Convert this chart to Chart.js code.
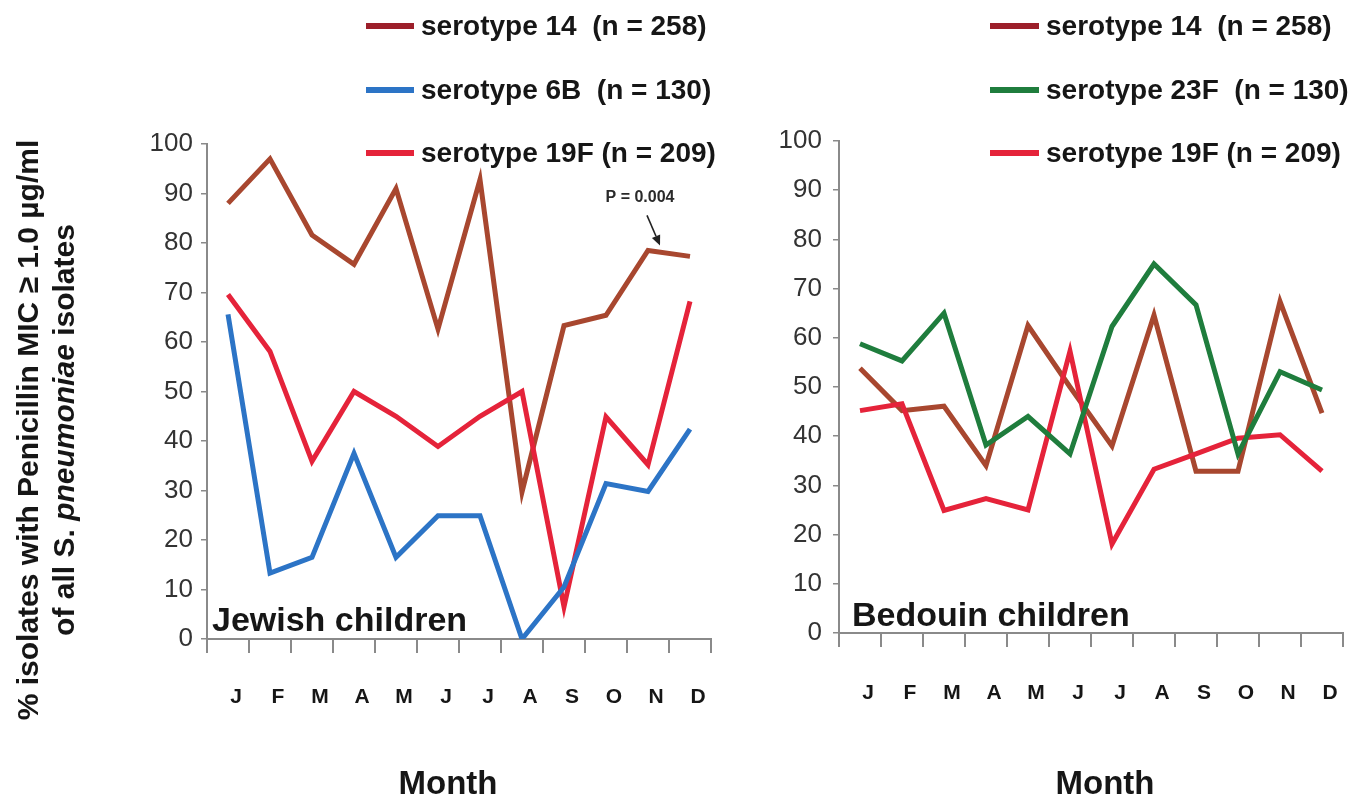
<!DOCTYPE html>
<html>
<head>
<meta charset="utf-8">
<script src="https://cdn.jsdelivr.net/npm/chart.js@4/dist/chart.umd.min.js"></script>
<style>
  html, body { margin: 0; padding: 0; background: #fff; }
  #wrap { position: relative; width: 1370px; height: 802px; overflow: hidden; background: #fff; }
  #jewish { position: absolute; left: 0; top: 0; }
  #bedouin { position: absolute; left: 760px; top: 0; }
</style>
</head>
<body>
<div id="wrap">
  <canvas id="jewish" width="760" height="802"></canvas>
  <canvas id="bedouin" width="610" height="802"></canvas>
</div>
<script>
// Monthly share of isolates with penicillin MIC >= 1.0 ug/ml, by serotype
const months = ['J', 'F', 'M', 'A', 'M', 'J', 'J', 'A', 'S', 'O', 'N', 'D'];

const jewishSero14  = [88, 97, 81.6, 75.7, 91, 62.6, 92.8, 29.7, 63.3, 65.4, 78.5, 77.3];
const jewishSero6B  = [65.6, 13.3, 16.5, 37.5, 16.5, 24.9, 24.9, 0, 10.5, 31.4, 29.8, 42.4];
const jewishSero19F = [69.6, 58.1, 35.9, 50, 45, 38.9, 45, 50, 6.5, 44.9, 35.2, 68.2];

const bedouinSero14  = [53.8, 45.2, 46.1, 34, 62.5, 50, 38, 64.6, 32.9, 32.9, 67.4, 44.7];
const bedouinSero23F = [58.8, 55.3, 65, 38.2, 44, 36.4, 62.3, 75, 66.7, 36.4, 53.1, 49.4];
const bedouinSero19F = [45.2, 46.6, 24.9, 27.3, 25, 57.3, 18.1, 33.3, 36.4, 39.6, 40.3, 32.9];

const jewishLabels  = ['serotype 14  (n = 258)', 'serotype 6B  (n = 130)', 'serotype 19F (n = 209)'];
const bedouinLabels = ['serotype 14  (n = 258)', 'serotype 23F  (n = 130)', 'serotype 19F (n = 209)'];

const yTicks = [0, 10, 20, 30, 40, 50, 60, 70, 80, 90, 100];

const FONT = "'Liberation Sans', Arial, Helvetica, sans-serif";
const INK = '#161616';
const AXIS = '#8a8a8a';
const C = {
  s14: '#A8472F', s14key: '#9C1F2A',
  s6B: '#2C74C6',
  s19F: '#E5233A',
  s23F: '#1F7D3D'
};

function series(label, data, color, keyColor, order) {
  return {
    label, data, order,
    borderColor: color, backgroundColor: color, keyColor,
    borderWidth: 5, pointRadius: 0, pointHoverRadius: 0,
    tension: 0, fill: false, borderJoinStyle: 'miter', borderCapStyle: 'butt'
  };
}

// Legend rows, panel caption, x-axis title and the optional p-value note with its arrow
const panelDecor = {
  id: 'panelDecor',
  afterDraw(chart, args, o) {
    const ctx = chart.ctx;
    ctx.save();
    chart.data.datasets.forEach((ds, i) => {
      const y = o.rows[i];
      ctx.strokeStyle = ds.keyColor || ds.borderColor;
      ctx.lineWidth = 6;
      ctx.lineCap = 'butt';
      ctx.beginPath();
      ctx.moveTo(o.keyX0, y);
      ctx.lineTo(o.keyX1, y);
      ctx.stroke();
      ctx.fillStyle = INK;
      ctx.font = 'bold 28px ' + FONT;
      ctx.textAlign = 'left';
      ctx.textBaseline = 'middle';
      ctx.fillText(ds.label, o.textX, y + 1);
    });

    ctx.font = 'bold 34px ' + FONT;
    ctx.textBaseline = 'alphabetic';
    ctx.fillStyle = INK;
    ctx.fillText(o.caption, o.captionX, o.captionY);

    ctx.font = 'bold 33px ' + FONT;
    ctx.textAlign = 'center';
    ctx.textBaseline = 'middle';
    ctx.fillText(o.axisTitle, o.axisTitleX, o.axisTitleY);

    if (o.note) {
      const n = o.note;
      const xs = chart.scales.x, ys = chart.scales.y;
      const v = chart.data.datasets[n.dataset].data[n.index];
      const tipX = xs.getPixelForValue(n.index) + n.tipDx;
      const tipY = ys.getPixelForValue(v) + n.tipDy;
      const sx = tipX + n.tailDx, sy = tipY + n.tailDy;
      ctx.strokeStyle = '#222';
      ctx.fillStyle = '#222';
      ctx.lineWidth = 1.6;
      const ang = Math.atan2(tipY - sy, tipX - sx);
      const head = 10, half = 4.5;
      const bx = tipX - head * Math.cos(ang), by = tipY - head * Math.sin(ang);
      ctx.beginPath();
      ctx.moveTo(sx, sy);
      ctx.lineTo(bx, by);
      ctx.stroke();
      ctx.beginPath();
      ctx.moveTo(tipX, tipY);
      ctx.lineTo(bx + half * Math.sin(ang), by - half * Math.cos(ang));
      ctx.lineTo(bx - half * Math.sin(ang), by + half * Math.cos(ang));
      ctx.closePath();
      ctx.fill();
      ctx.font = 'bold 16px ' + FONT;
      ctx.fillStyle = '#2a2a2a';
      ctx.textAlign = 'center';
      ctx.textBaseline = 'middle';
      ctx.fillText(n.text, sx + n.textDx, sy + n.textDy);
    }
    ctx.restore();
  }
};

// Two-line rotated y-axis title, with the species name in italics
const yTitle = {
  id: 'yTitle',
  afterDraw(chart, args, o) {
    if (!o || !o.lines) return;
    const ctx = chart.ctx;
    ctx.save();
    ctx.fillStyle = INK;
    o.lines.forEach(line => {
      ctx.save();
      ctx.translate(line.x, o.centerY);
      ctx.rotate(-Math.PI / 2);
      ctx.textAlign = 'left';
      ctx.textBaseline = 'alphabetic';
      const fonts = line.parts.map(p => (p.italic ? 'italic ' : '') + 'bold ' + o.size + 'px ' + FONT);
      let total = 0;
      const widths = line.parts.map((p, i) => {
        ctx.font = fonts[i];
        const w = ctx.measureText(p.text).width;
        total += w;
        return w;
      });
      let x = -total / 2;
      line.parts.forEach((p, i) => {
        ctx.font = fonts[i];
        ctx.fillText(p.text, x, 0);
        x += widths[i];
      });
      ctx.restore();
    });
    ctx.restore();
  }
};

function buildScales(o) {
  return {
    x: {
      type: 'category',
      offset: true,
      grid: { offset: true, drawOnChartArea: false, drawTicks: true, tickLength: 14, color: AXIS, lineWidth: 2 },
      border: { display: true, color: AXIS, width: 2 },
      ticks: {
        font: { family: FONT, size: 21, weight: 'bold' }, color: INK,
        padding: o.xPad, labelOffset: 8, maxRotation: 0, minRotation: 0, autoSkip: false
      },
      title: { display: false },
      afterFit(s) { s.height = o.xHeight; }
    },
    y: {
      min: 0, max: 100,
      afterBuildTicks(s) { s.ticks = yTicks.map(v => ({ value: v })); },
      ticks: { font: { family: FONT, size: 26 }, color: '#333', padding: o.yPad },
      grid: { drawOnChartArea: false, drawTicks: true, tickLength: 6, color: AXIS, lineWidth: 1.5 },
      border: { display: true, color: AXIS, width: 2 },
      afterFit(s) { s.width = 60; }
    }
  };
}

function panel(id, datasets, o, extraPlugins) {
  return new Chart(document.getElementById(id), {
    type: 'line',
    data: { labels: months, datasets },
    options: {
      responsive: false,
      animation: false,
      devicePixelRatio: 1,
      layout: { padding: o.padding },
      scales: buildScales(o),
      plugins: {
        legend: { display: false },
        tooltip: { enabled: false },
        panelDecor: o.decor,
        yTitle: o.yTitle || {}
      }
    },
    plugins: [panelDecor].concat(extraPlugins || [])
  });
}

panel('jewish', [
  series(jewishLabels[0], jewishSero14, C.s14, C.s14key, 3),
  series(jewishLabels[1], jewishSero6B, C.s6B, C.s6B, 1),
  series(jewishLabels[2], jewishSero19F, C.s19F, C.s19F, 2)
], {
  padding: { left: 147, right: 49, top: 144, bottom: 0 },
  xHeight: 163, xPad: 32, yPad: 8,
  decor: {
    rows: [26, 90, 153], keyX0: 366, keyX1: 414, textX: 421,
    caption: 'Jewish children', captionX: 212, captionY: 631,
    axisTitle: 'Month', axisTitleX: 448, axisTitleY: 785,
    note: {
      text: 'P = 0.004', dataset: 0, index: 10,
      tipDx: 12, tipDy: -5, tailDx: -13, tailDy: -30, textDx: -7, textDy: -18
    }
  },
  yTitle: {
    size: 30, centerY: 430,
    lines: [
      { x: 38, parts: [{ text: '% isolates with Penicillin MIC \u2265 1.0 \u00b5g/ml' }] },
      { x: 74, parts: [{ text: 'of all S. ' }, { text: 'pneumoniae', italic: true }, { text: ' isolates' }] }
    ]
  }
}, [yTitle]);

panel('bedouin', [
  series(bedouinLabels[0], bedouinSero14, C.s14, C.s14key, 3),
  series(bedouinLabels[1], bedouinSero23F, C.s23F, C.s23F, 1),
  series(bedouinLabels[2], bedouinSero19F, C.s19F, C.s19F, 2)
], {
  padding: { left: 19, right: 27, top: 141, bottom: 0 },
  xHeight: 169, xPad: 34, yPad: 11,
  decor: {
    rows: [26, 90, 153], keyX0: 230, keyX1: 279, textX: 286,
    caption: 'Bedouin children', captionX: 92, captionY: 626,
    axisTitle: 'Month', axisTitleX: 345, axisTitleY: 785
  }
});
</script>
</body>
</html>
